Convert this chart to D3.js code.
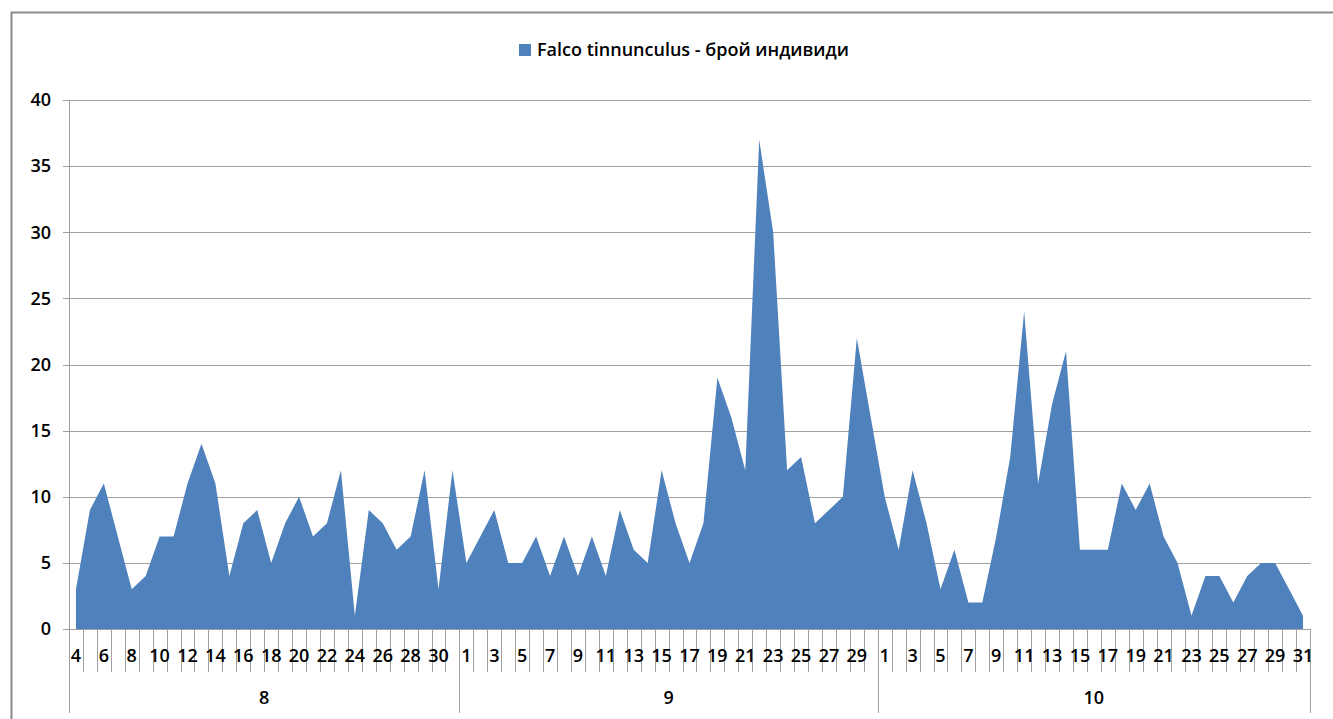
<!DOCTYPE html>
<html>
<head>
<meta charset="utf-8">
<script src="https://cdn.jsdelivr.net/npm/d3@7"></script>
<style>
  body { margin: 0; background: #fff; }
  text { font-family: "Open Sans", "Noto Sans", sans-serif; fill: #000; }
</style>
</head>
<body>
<div id="chart"></div>
<script>
// days shown on the axis, grouped by month
const months = ['8', '9', '10'];
const augDays = d3.range(4, 32);
const sepDays = d3.range(1, 31);
const octDays = d3.range(1, 32);

// Falco tinnunculus - number of individuals per day
const augValues = [3, 9, 11, 7, 3, 4, 7, 7, 11, 14, 11, 4, 8, 9, 5, 8, 10, 7, 8, 12, 1, 9, 8, 6, 7, 12, 3, 12];
const sepValues = [5, 7, 9, 5, 5, 7, 4, 7, 4, 7, 4, 9, 6, 5, 12, 8, 5, 8, 19, 16, 12, 37, 30, 12, 13, 8, 9, 10, 22, 16];
const octValues = [10, 6, 12, 8, 3, 6, 2, 2, 7, 13, 24, 11, 17, 21, 6, 6, 6, 11, 9, 11, 7, 5, 1, 4, 4, 2, 4, 5, 5, 3, 1];

const yTicks = [0, 5, 10, 15, 20, 25, 30, 35, 40];
const seriesName = 'Falco tinnunculus - брой индивиди';

const days = [augDays, sepDays, octDays];
const values = [augValues, sepValues, octValues];

const data = [];
days.forEach((list, m) => {
    list.forEach((d, i) => {
        data.push({ month: months[m], day: d, value: values[m][i] });
    });
});

const width = 1333, height = 719;
const plotLeft = 69, plotRight = 1310, plotTop = 100, plotBottom = 629;
const fontSize = 18;

const svg = d3.select('#chart')
              .append('svg')
              .attr('width', width)
              .attr('height', height);

// outer chart frame (cut off at the right and bottom)
svg.append('rect')
   .attr('x', 11.5)
   .attr('y', 12.5)
   .attr('width', 1400)
   .attr('height', 800)
   .attr('fill', 'none')
   .attr('stroke', '#8a8a8a')
   .attr('stroke-width', 2);

const x = d3.scaleBand()
            .domain(d3.range(data.length))
            .range([plotLeft, plotRight])
            .paddingInner(0)
            .paddingOuter(0);
const bw = x.bandwidth();
const cx = i => x(i) + bw / 2;

const y = d3.scaleLinear()
            .domain([0, 40])
            .range([plotBottom, plotTop]);

// gridlines
svg.append('g')
   .selectAll('line')
   .data(yTicks)
   .enter()
   .append('line')
   .attr('x1', plotLeft - 6)
   .attr('x2', plotRight + 1)
   .attr('y1', d => Math.round(y(d)) + 0.5)
   .attr('y2', d => Math.round(y(d)) + 0.5)
   .attr('stroke', '#a0a0a0')
   .attr('stroke-width', 1);

// y labels
svg.append('g')
   .selectAll('text')
   .data(yTicks)
   .enter()
   .append('text')
   .attr('x', 51)
   .attr('y', d => y(d))
   .attr('dy', '0.35em')
   .attr('text-anchor', 'end')
   .attr('font-size', fontSize)
   .attr('font-weight', 600)
   .text(d => d);

// area
const area = d3.area()
               .x((d, i) => cx(i))
               .y0(y(0))
               .y1(d => y(d.value));

svg.append('path')
   .datum(data)
   .attr('d', area)
   .attr('fill', '#4f81bd');

// y axis line
svg.append('line')
   .attr('x1', plotLeft + 0.5).attr('x2', plotLeft + 0.5)
   .attr('y1', plotTop).attr('y2', 713)
   .attr('stroke', '#a0a0a0');

// category tick lines
const boundaries = d3.range(1, data.length + 1);
svg.append('g')
   .selectAll('line')
   .data(boundaries)
   .enter()
   .append('line')
   .attr('x1', i => Math.round(x(i - 1) + bw) + 0.5)
   .attr('x2', i => Math.round(x(i - 1) + bw) + 0.5)
   .attr('y1', plotBottom)
   .attr('y2', 672)
   .attr('stroke', '#a0a0a0');

// month separators
let start = 0;
const monthSpans = days.map((list, m) => {
    const s = { month: months[m], from: start, to: start + list.length };
    start += list.length;
    return s;
});

svg.append('g')
   .selectAll('line')
   .data(monthSpans)
   .enter()
   .append('line')
   .attr('x1', d => Math.round(x(d.to - 1) + bw) + 0.5)
   .attr('x2', d => Math.round(x(d.to - 1) + bw) + 0.5)
   .attr('y1', plotBottom)
   .attr('y2', 713)
   .attr('stroke', '#a0a0a0');

// day labels, every second category
svg.append('g')
   .selectAll('text')
   .data(data.filter((d, i) => i % 2 === 0))
   .enter()
   .append('text')
   .attr('x', d => cx(data.indexOf(d)))
   .attr('y', 656)
   .attr('dy', '0.35em')
   .attr('text-anchor', 'middle')
   .attr('font-size', fontSize)
   .attr('font-weight', 600)
   .text(d => d.day);

// month labels
svg.append('g')
   .selectAll('text')
   .data(monthSpans)
   .enter()
   .append('text')
   .attr('x', d => (x(d.from) + x(d.to - 1) + bw) / 2)
   .attr('y', 698)
   .attr('dy', '0.35em')
   .attr('text-anchor', 'middle')
   .attr('font-size', fontSize)
   .attr('font-weight', 600)
   .text(d => d.month);

// legend
svg.append('rect')
   .attr('x', 519)
   .attr('y', 44)
   .attr('width', 12)
   .attr('height', 12)
   .attr('fill', '#4f81bd');

svg.append('text')
   .attr('x', 537)
   .attr('y', 50)
   .attr('dy', '0.35em')
   .attr('font-size', fontSize)
   .attr('font-weight', 600)
   .text(seriesName);
</script>
</body>
</html>
